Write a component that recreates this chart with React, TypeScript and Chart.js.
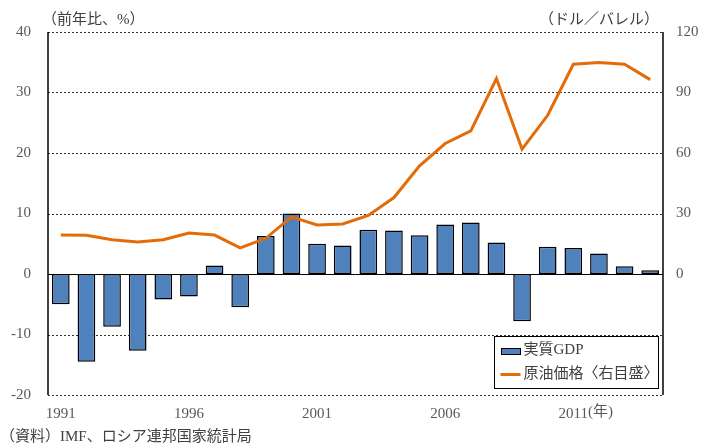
import React, { useEffect, useRef } from "react";
import { Chart, registerables } from "chart.js";

Chart.register(...registerables);

const years = [
  "1991", "1992", "1993", "1994", "1995", "1996", "1997", "1998", "1999", "2000",
  "2001", "2002", "2003", "2004", "2005", "2006", "2007", "2008", "2009", "2010",
  "2011", "2012", "2013", "2014",
];
const gdpGrowth = [
  -5.0, -14.5, -8.7, -12.7, -4.2, -3.7, 1.4, -5.5, 6.3, 10.0,
  5.0, 4.7, 7.3, 7.2, 6.4, 8.2, 8.5, 5.2, -7.8, 4.5,
  4.3, 3.4, 1.3, 0.6,
];
const oilPrice = [
  19.3, 19.2, 17.0, 15.9, 17.0, 20.3, 19.3, 13.0, 17.7, 28.3,
  24.3, 24.8, 29.0, 37.9, 53.6, 64.7, 71.0, 96.9, 61.9, 78.7,
  104.0, 104.9, 104.0, 96.4,
];
const shownYearLabels = ["1991", "1996", "2001", "2006", "2011"];
const leftGridValues = [40, 30, 20, 10, 0, -10, -20];
const seriesNames = ["実質GDP", "原油価格〈右目盛〉"];
const leftUnit = "（前年比、%）";
const rightUnit = "（ドル／バレル）";
const yearSuffix = "(年)";
const sourceNote = "（資料）IMF、ロシア連邦国家統計局";

const FONT = '"Liberation Serif", "Noto Sans CJK JP", serif';
const TICK_COLOR = "#595959";
const TEXT_COLOR = "#404040";
const BAR_COLOR = "#4F81BD";
const LINE_COLOR = "#E36C09";

const decorPlugin = {
  id: "decor",
  beforeDatasetsDraw(chart: any) {
    const { ctx, chartArea } = chart;
    const y = chart.scales.y;
    ctx.save();
    leftGridValues.forEach((v) => {
      const py = Math.round(y.getPixelForValue(v)) + 0.5;
      ctx.beginPath();
      if (v === 0) {
        ctx.setLineDash([]);
        ctx.strokeStyle = "#000";
      } else {
        ctx.setLineDash([2, 2]);
        ctx.strokeStyle = "#333";
      }
      ctx.lineWidth = 1;
      ctx.moveTo(chartArea.left, py);
      ctx.lineTo(chartArea.right, py);
      ctx.stroke();
    });
    ctx.setLineDash([]);
    ctx.strokeStyle = "#000";
    ctx.lineWidth = 1.5;
    [chartArea.left, chartArea.right].forEach((x) => {
      ctx.beginPath();
      ctx.moveTo(Math.round(x), chartArea.top);
      ctx.lineTo(Math.round(x), chartArea.bottom);
      ctx.stroke();
    });
    ctx.restore();
  },
  afterDraw(chart: any) {
    const { ctx, chartArea } = chart;
    ctx.save();
    ctx.fillStyle = TEXT_COLOR;
    ctx.textBaseline = "middle";
    ctx.font = `15px ${FONT}`;
    ctx.textAlign = "left";
    ctx.fillText(leftUnit, chartArea.left - 6, 20);
    ctx.textAlign = "right";
    ctx.fillText(rightUnit, chartArea.right - 4, 20);
    ctx.textAlign = "left";
    ctx.fillText(sourceNote, 0, 437);

    // year suffix after 2011
    const x = chart.scales.x;
    const idx = years.indexOf("2011");
    const px = x.getPixelForValue(idx);
    ctx.font = `15px ${FONT}`;
    const w = ctx.measureText("2011").width;
    ctx.fillStyle = TICK_COLOR;
    ctx.fillText(yearSuffix, px + w / 2, 412);

    // legend
    const bx = chartArea.right - 168.5;
    const by = chartArea.bottom - 58.5;
    const bw = 164;
    const bh = 52;
    ctx.fillStyle = "#fff";
    ctx.fillRect(bx, by, bw, bh);
    ctx.strokeStyle = "#000";
    ctx.lineWidth = 1;
    ctx.strokeRect(bx, by, bw, bh);
    const ds = chart.data.datasets;
    // bar swatch
    ctx.fillStyle = ds[0].backgroundColor;
    ctx.fillRect(bx + 7, by + 12, 19, 6);
    ctx.strokeStyle = "#000";
    ctx.strokeRect(bx + 7, by + 12, 19, 6);
    ctx.fillStyle = TEXT_COLOR;
    ctx.font = `15px ${FONT}`;
    ctx.textAlign = "left";
    ctx.fillText(ds[0].label, bx + 29, by + 14);
    // line swatch
    ctx.strokeStyle = ds[1].borderColor;
    ctx.lineWidth = 3;
    ctx.beginPath();
    ctx.moveTo(bx + 6, by + 38);
    ctx.lineTo(bx + 26, by + 38);
    ctx.stroke();
    ctx.fillStyle = TEXT_COLOR;
    ctx.fillText(ds[1].label, bx + 29, by + 38);
    ctx.restore();
  },
};

export default function App() {
  const ref = useRef<HTMLCanvasElement | null>(null);
  useEffect(() => {
    if (!ref.current) return;
    const chart = new Chart(ref.current, {
      type: "bar",
      data: {
        labels: years,
        datasets: [
          {
            type: "bar",
            label: seriesNames[0],
            data: gdpGrowth,
            backgroundColor: BAR_COLOR,
            borderColor: "#000",
            borderWidth: 1.5,
            borderSkipped: false,
            barPercentage: 0.69,
            categoryPercentage: 1,
            yAxisID: "y",
            order: 2,
          },
          {
            type: "line",
            label: seriesNames[1],
            data: oilPrice,
            borderColor: LINE_COLOR,
            backgroundColor: LINE_COLOR,
            borderWidth: 3,
            pointRadius: 0,
            tension: 0,
            yAxisID: "y1",
            order: 1,
          },
        ] as any,
      },
      options: {
        responsive: false,
        animation: false,
        devicePixelRatio: 1,
        layout: { padding: { top: 32, left: 0, right: 0, bottom: 0 } },
        plugins: {
          legend: { display: false },
          tooltip: { enabled: false },
        },
        scales: {
          x: {
            type: "category",
            offset: true,
            grid: { display: false, drawTicks: false },
            border: { display: false },
            ticks: {
              autoSkip: false,
              maxRotation: 0,
              padding: 10,
              color: TICK_COLOR,
              font: { family: FONT, size: 15 },
              callback: (_v: any, i: number) =>
                shownYearLabels.includes(years[i]) ? years[i] : "",
            },
            afterFit: (s: any) => {
              s.height = 51;
            },
          },
          y: {
            position: "left",
            min: -20,
            max: 40,
            grid: { display: false, drawTicks: false },
            border: { display: false },
            ticks: {
              stepSize: 10,
              padding: 17,
              color: TICK_COLOR,
              font: { family: FONT, size: 15 },
            },
            afterFit: (s: any) => {
              s.width = 48;
            },
          },
          y1: {
            position: "right",
            min: -60,
            max: 120,
            grid: { display: false, drawTicks: false },
            border: { display: false },
            ticks: {
              stepSize: 30,
              padding: 13,
              color: TICK_COLOR,
              font: { family: FONT, size: 15 },
              callback: (v: any) => (Number(v) < 0 ? "" : String(v)),
            },
            afterFit: (s: any) => {
              s.width = 39;
            },
          },
        },
      } as any,
      plugins: [decorPlugin],
    });
    return () => chart.destroy();
  }, []);

  return (
    <div style={{ position: "absolute", left: 0, top: 0, width: 702, height: 446, background: "#fff" }}>
      <canvas ref={ref} width={702} height={446} style={{ display: "block" }} />
    </div>
  );
}
